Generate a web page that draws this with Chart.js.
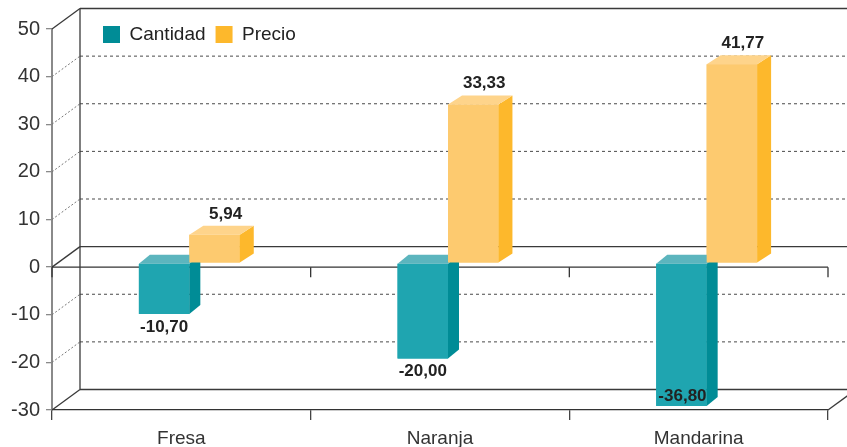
<!DOCTYPE html>
<html>
<head>
<meta charset="utf-8">
<script src="https://cdn.jsdelivr.net/npm/chart.js@4"></script>
<style>
html, body { margin: 0; padding: 0; background: #fff; }
#wrap { width: 847px; height: 447px; }
</style>
</head>
<body>
<div id="wrap"><canvas id="frutasChart" width="847" height="447"></canvas></div>
<script>
const categories = ['Fresa', 'Naranja', 'Mandarina'];
const seriesNames = ['Cantidad', 'Precio'];
const cantidadValues = [-10.70, -20.00, -36.80];
const precioValues = [5.94, 33.33, 41.77];
const yMin = -30;
const yMax = 50;
const yStep = 10;

// colores: cara frontal, lateral y superior
const frontColors = ['#1fa5b0', '#fdca6f'];
const sideColors = ['#008c96', '#fdb82c'];
const topColors = ['#5cb5be', '#fed48b'];

const fontFamily = "'Liberation Sans', Arial, Helvetica, sans-serif";
const wallDepth = { dx: 28, dy: -20.5 };   // fondo del "cubo"
const barShift = { dx: 8, dy: -4 };        // plano donde se apoyan las barras
const barDepth = [[11, -9], [14, -9]];
const legendPadding = 10;

function line(ctx, x1, y1, x2, y2, color, width, dash) {
    ctx.beginPath();
    ctx.setLineDash(dash || []);
    ctx.strokeStyle = color;
    ctx.lineWidth = width;
    ctx.moveTo(x1, y1);
    ctx.lineTo(x2, y2);
    ctx.stroke();
}

const pseudo3d = {
    id: 'pseudo3d',
    afterLayout(chart) {
        // la leyenda se dibuja dentro del area, arriba a la izquierda
        const lg = chart.legend;
        lg.left = 103 - legendPadding;
        lg.top = 25 - legendPadding;
        lg.bottom = lg.top + 45;
        lg.height = 45;
    },
    beforeDatasetsDraw(chart) {
        const ctx = chart.ctx;
        const area = chart.chartArea;
        const yScale = chart.scales.y;
        const xScale = chart.scales.x;
        const backX = area.left + wallDepth.dx;
        ctx.save();
        for (let v = yMin; v <= yMax; v += yStep) {
            const py = yScale.getPixelForValue(v);
            const by = py + wallDepth.dy;
            const solid = v === yMin || v === yMax || v === 0;
            if (solid) {
                line(ctx, backX, by, chart.width, by, '#3a3a3a', 1.3);
                line(ctx, area.left, py, backX, by, '#3a3a3a', 1.3);
            } else {
                line(ctx, backX, by, chart.width, by, '#4a4a4a', 1, [3, 3]);
                line(ctx, area.left, py, backX, by, '#777', 1, [2, 2]);
            }
            if (v === 0) {
                line(ctx, area.left, py, area.right, py, '#333', 1.3);
                for (let i = 0; i <= categories.length; i++) {
                    const xb = xScale.getPixelForValue(i - 0.5);
                    line(ctx, xb, py, xb, py + 10, '#333', 1.3);
                }
            }
            if (v === yMin) {
                line(ctx, area.right, py, area.right + wallDepth.dx, by, '#3a3a3a', 1.3);
            }
        }
        line(ctx, backX, yScale.getPixelForValue(yMax) + wallDepth.dy,
            backX, yScale.getPixelForValue(yMin) + wallDepth.dy, '#3a3a3a', 1.3);
        ctx.restore();
        ctx.save();
        ctx.translate(barShift.dx, barShift.dy);
    },
    afterDatasetsDraw(chart) {
        const ctx = chart.ctx;
        const area = chart.chartArea;
        // se redibuja cada serie en orden para que Precio tape la cara superior de Cantidad
        chart.data.datasets.forEach(function (ds, i) {
            const dx = barDepth[i][0];
            const dy = barDepth[i][1];
            chart.getDatasetMeta(i).data.forEach(function (bar, j) {
                const half = bar.width / 2;
                const left = bar.x - half;
                const right = bar.x + half;
                const rawBottom = Math.max(bar.y, bar.base);
                const top = Math.max(Math.min(bar.y, bar.base), area.top);
                const bottom = Math.min(rawBottom, area.bottom);

                ctx.save();
                ctx.beginPath();
                ctx.rect(area.left, area.top, area.right - area.left, area.bottom - area.top);
                ctx.clip();
                bar.draw(ctx);
                ctx.restore();

                ctx.fillStyle = sideColors[i];
                ctx.beginPath();
                ctx.moveTo(right, top);
                ctx.lineTo(right + dx, top + dy);
                ctx.lineTo(right + dx, bottom + dy);
                ctx.lineTo(right, bottom);
                ctx.closePath();
                ctx.fill();

                ctx.fillStyle = topColors[i];
                ctx.beginPath();
                ctx.moveTo(left, top);
                ctx.lineTo(left + dx, top + dy);
                ctx.lineTo(right + dx, top + dy);
                ctx.lineTo(right, top);
                ctx.closePath();
                ctx.fill();

                const v = ds.data[j];
                const text = v.toFixed(2).replace('.', ',');
                ctx.font = 'bold 17px ' + fontFamily;
                ctx.fillStyle = '#222';
                ctx.textAlign = 'center';
                ctx.textBaseline = 'alphabetic';
                if (v >= 0) {
                    ctx.fillText(text, bar.x + 11, top - 16);
                } else if (rawBottom > area.bottom) {
                    ctx.fillText(text, bar.x + 1, bottom - 5);
                } else {
                    ctx.fillText(text, bar.x, bottom + 18);
                }
            });
        });
        ctx.restore();
    }
};

new Chart(document.getElementById('frutasChart'), {
    type: 'bar',
    data: {
        labels: categories,
        datasets: [{
            label: seriesNames[0],
            data: cantidadValues,
            backgroundColor: frontColors[0],
            borderWidth: 0,
            clip: 0
        }, {
            label: seriesNames[1],
            data: precioValues,
            backgroundColor: frontColors[1],
            borderWidth: 0,
            clip: 0
        }]
    },
    options: {
        responsive: false,
        animation: false,
        layout: {
            padding: { top: 0, right: 19, left: 0, bottom: 0 }
        },
        datasets: {
            bar: {
                categoryPercentage: 0.39,
                barPercentage: 1
            }
        },
        plugins: {
            tooltip: { enabled: false },
            legend: {
                position: 'top',
                align: 'start',
                maxHeight: 29,
                labels: {
                    boxWidth: 17,
                    boxHeight: 17,
                    padding: legendPadding,
                    color: '#222',
                    font: { family: fontFamily, size: 19 },
                    generateLabels: function (chart) {
                        const items = Chart.defaults.plugins.legend.labels.generateLabels(chart);
                        items.forEach(function (it) {
                            it.fillStyle = sideColors[it.datasetIndex];
                            it.strokeStyle = sideColors[it.datasetIndex];
                            it.lineWidth = 0;
                        });
                        return items;
                    }
                }
            }
        },
        scales: {
            x: {
                afterFit: function (scale) { scale.height = 37; },
                grid: {
                    display: true,
                    drawOnChartArea: false,
                    drawTicks: true,
                    tickLength: 10,
                    color: '#444',
                    lineWidth: 1.3
                },
                border: { display: true, color: '#333', width: 1.3 },
                ticks: {
                    color: '#333',
                    padding: 7,
                    maxRotation: 0,
                    autoSkip: false,
                    font: { family: fontFamily, size: 19 }
                }
            },
            y: {
                min: yMin,
                max: yMax,
                afterFit: function (scale) { scale.width = 52; },
                grid: {
                    display: true,
                    drawOnChartArea: false,
                    drawTicks: true,
                    tickLength: 6,
                    color: '#8a8a8a',
                    lineWidth: 1.3
                },
                border: { display: true, color: '#8a8a8a', width: 2 },
                ticks: {
                    stepSize: yStep,
                    color: '#333',
                    padding: 6,
                    font: { family: fontFamily, size: 20 }
                }
            }
        }
    },
    plugins: [pseudo3d]
});
</script>
</body>
</html>
